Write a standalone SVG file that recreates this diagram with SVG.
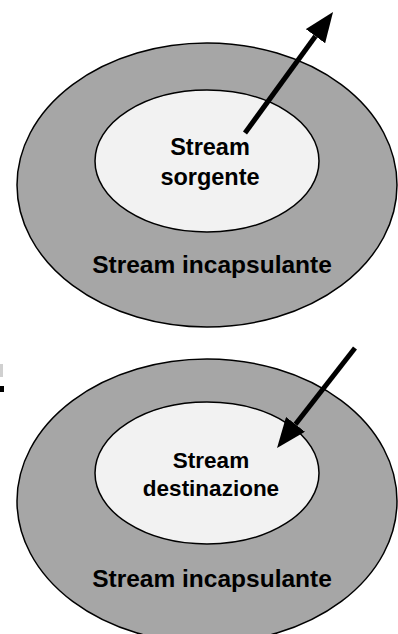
<svg xmlns="http://www.w3.org/2000/svg" width="398" height="634" viewBox="0 0 398 634">
<style>
.outer{fill:#a6a6a6;stroke:#000;stroke-width:1.5}
.inner{fill:#f2f2f2;stroke:#000;stroke-width:1.5}
.t{font-family:"Liberation Sans",Arial,sans-serif;font-weight:bold;fill:#000;text-anchor:middle}
.arrow{stroke:#000;stroke-width:5;fill:none;marker-end:url(#ah)}
</style>
<defs>
<marker id="ah" viewBox="0 0 30 24" refX="0" refY="12" markerWidth="30" markerHeight="24" markerUnits="userSpaceOnUse" orient="auto">
<path d="M0,0 L30,12 L0,24 z" fill="#000"/>
</marker>
</defs>
<rect width="398" height="634" fill="#fff"/>
<rect x="0" y="364" width="3" height="13" fill="#d0d0d0"/>
<rect x="0" y="386" width="4" height="6" fill="#000"/>
<g id="outer-top">
<ellipse class="outer" cx="207" cy="185" rx="190" ry="142"/>
<text class="t" x="212" y="273" font-size="24.5">Stream incapsulante</text>
</g>
<g id="inner-top">
<ellipse class="inner" cx="207" cy="161" rx="112" ry="71"/>
<text class="t" x="210" y="155" font-size="23.5">Stream</text>
<text class="t" x="210" y="185" font-size="23.5">sorgente</text>
</g>
<g id="outer-bottom">
<ellipse class="outer" cx="207" cy="501" rx="190" ry="142"/>
<text class="t" x="212" y="587" font-size="24.5">Stream incapsulante</text>
</g>
<g id="inner-bottom">
<ellipse class="inner" cx="207" cy="473" rx="112" ry="71"/>
<text class="t" x="211" y="468" font-size="22.5">Stream</text>
<text class="t" x="211" y="496" font-size="22.5">destinazione</text>
</g>
<g id="connectors">
<line class="arrow" x1="245" y1="133" x2="315.4" y2="36.2"/>
<line class="arrow" x1="355" y1="348" x2="295.5" y2="424.3"/>
</g>
</svg>
